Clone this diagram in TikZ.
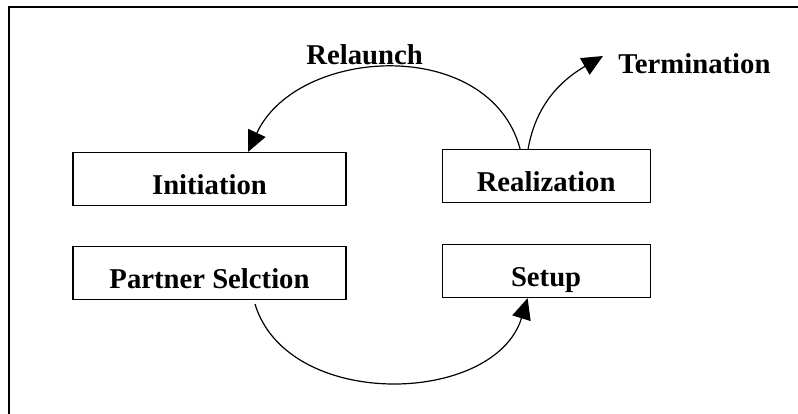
\documentclass[tikz,border=0pt]{standalone}
\usepackage{fontspec}
\setmainfont{Liberation Serif}
\usetikzlibrary{arrows.meta,positioning}

\begin{document}
\begin{tikzpicture}[x=1pt,y=1pt,thick,
	stage/.style={draw,line width=1.1pt,minimum width=273pt,minimum height=53pt,inner sep=2pt,text height=31pt,text depth=0pt,font=\fontsize{28.7}{34}\selectfont\bfseries},
	lbl/.style={inner sep=0pt,anchor=base west,font=\fontsize{28.7}{34}\selectfont\bfseries},
	flow/.style={line width=1.2pt,-{Triangle[length=21pt,width=19pt]}}]
				\useasboundingbox (0,0) rectangle (798,414);
				\draw[line width=1.8pt] (9,0) -- (9,407) -- (798,407);
				\node[stage] (init) at (209.5,235) {Initiation};
				\node[stage,minimum width=208pt] (real) [right=95pt of init,yshift=3pt] {Realization};
				\node[stage] (partner) [below=40pt of init] {Partner Selction};
				\node[stage,minimum width=208pt] (setup) [below=41pt of real] {Setup};
				\node[lbl] (relaunch) at (306,349) {Relaunch};
				\node[lbl] (term) at (618,340) {Termination};
				\coordinate (termtip) at (603,358);
				\draw[flow] ([xshift=-26pt]real.north) to[out=105,in=65,looseness=1.1] ([xshift=38.5pt]init.north);
				\draw[flow] ([xshift=-18pt]real.north) to[out=80,in=210] (termtip);
				\draw[flow] ([xshift=45.5pt,yshift=-4pt]partner.south) to[out=-73,in=-107,looseness=1.05] ([xshift=-18.5pt]setup.south);
			\end{tikzpicture}
\end{document}
